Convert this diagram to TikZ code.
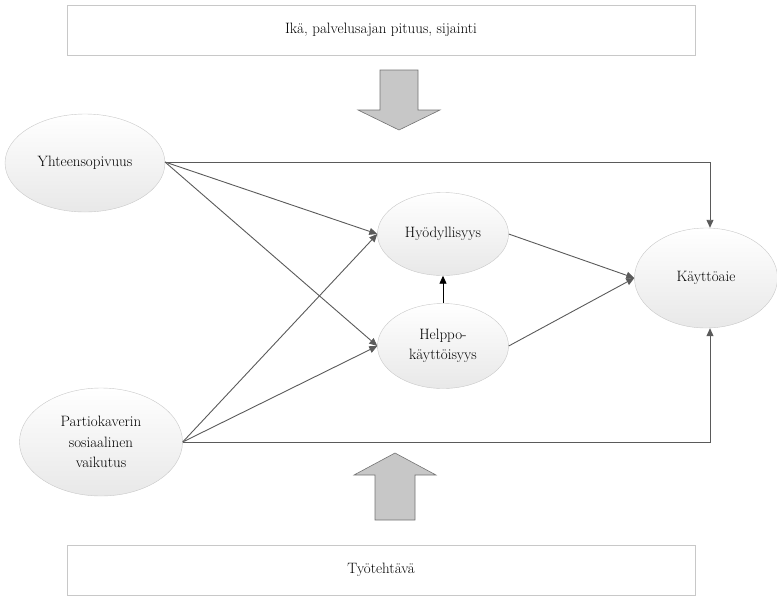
\documentclass[tikz,border=0pt]{standalone}
\usepackage{fontspec}
\usetikzlibrary{arrows.meta,shapes.geometric}
\definecolor{lineg}{RGB}{90,90,90}
\definecolor{edgeg}{RGB}{200,200,200}
\begin{document}
\begin{tikzpicture}[x=1pt,y=-1pt,
  construct/.style={ellipse,draw=edgeg,top color=white,bottom color=black!9,
    inner sep=0pt,align=center,font=\fontsize{15}{20.5}\selectfont},
  infobox/.style={rectangle,draw=edgeg,fill=white,minimum width=628pt,minimum height=50pt,
    inner sep=0pt,font=\fontsize{15}{20.5}\selectfont},
  conn/.style={draw=lineg,line width=0.9pt,-{Triangle[length=8pt,width=7pt]}},
  blockarrow/.style={draw=black!55,fill=black!22,line width=0.6pt}]
\useasboundingbox (0,0) rectangle (777,595);
% boxes
\node[infobox] (top) at (381,30) {Ikä, palvelusajan pituus, sijainti};
\node[infobox] (bot) at (381,570) {Työtehtävä};
% block arrows
\draw[blockarrow] (380,70) -- (418,70) -- (418,110) -- (440,110) -- (399,130) -- (358,110) -- (380,110) -- cycle;
\draw[blockarrow] (375,520) -- (415,520) -- (415,475) -- (436,475) -- (395,453) -- (354,475) -- (375,475) -- cycle;
% constructs
\node[construct,minimum width=160pt,minimum height=98pt] (yht) at (85,163) {Yhteensopivuus};
\node[construct,minimum width=163pt,minimum height=108pt] (par) at (101,442) {Partiokaverin\\sosiaalinen\\vaikutus};
\node[construct,minimum width=131pt,minimum height=83pt] (hyo) at (443,234) {Hyödyllisyys};
\node[construct,minimum width=131pt,minimum height=85pt] (hel) at (443,346) {Helppo-\\käyttöisyys};
\node[construct,minimum width=143pt,minimum height=100pt] (kay) at (706,278) {Käyttöaie};
% named points
\coordinate (ys) at (165,162);
\coordinate (tr) at (710,162);
\coordinate (br) at (710,442);
% connectors
\draw[conn] (ys) -- (hyo.west);
\draw[conn] (ys) -- (hel.west);
\draw[conn] (par.east) -- (hyo.west);
\draw[conn] (par.east) -- (hel.west);
\draw[conn] (hyo.east) -- (kay.west);
\draw[conn] (hel.east) -- (kay.west);
\draw[draw=black,line width=0.9pt,-{Triangle[length=8pt,width=7pt]}] (hel.north) -- (hyo.south);
\draw[conn] (ys) -- (tr) -- (kay.north -| tr);
\draw[conn] (par.east) -- (br) -- (kay.south -| br);
\end{tikzpicture}
\end{document}
